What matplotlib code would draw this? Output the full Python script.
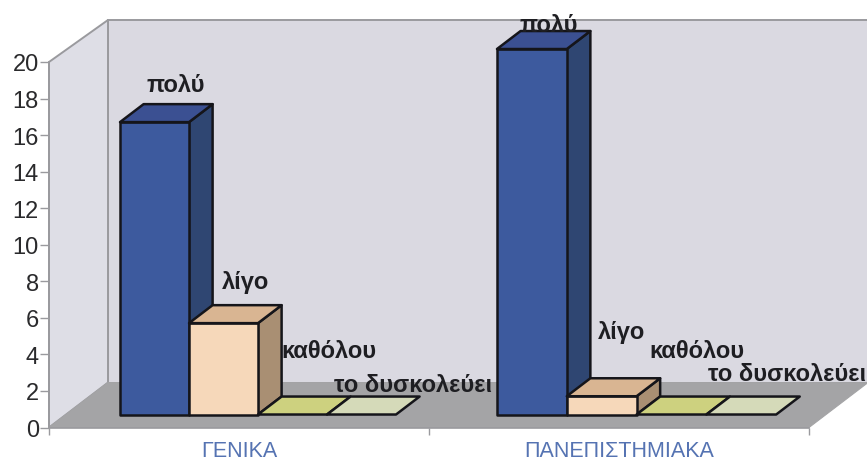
import matplotlib.pyplot as plt
from matplotlib.patches import Polygon

plt.rcParams['font.family'] = ['Liberation Sans', 'DejaVu Sans']

categories = ['ΓΕΝΙΚΑ', 'ΠΑΝΕΠΙΣΤΗΜΙΑΚΑ']
answers = ['πολύ', 'λίγο', 'καθόλου', 'το δυσκολεύει']
genika = [16, 5, 0, 0]
panepistimiaka = [20, 1, 0, 0]
y_ticks = [0, 2, 4, 6, 8, 10, 12, 14, 16, 18, 20]

W, H = 867, 460

# colours per answer: front, top, side
front_cols = ['#3d5a9e', '#f6d8ba', '#cdd17f', '#d5dab9']
top_cols = ['#3b5092', '#d9b592', '#cdd17f', '#d5dab9']
side_cols = ['#2f4672', '#a98f73', '#a08f70', '#a0a088']

# depth of the box, in x units and value units
box_dx = 59 / 380
box_dy = 45 / 18.3
wall_top = 19.84
bar_w = [69 / 380, 69.8 / 380]
d_front = 13 / 45
d_back = 31 / 45
group_start = [0.142, 0.134]

# label centres in pixels
label_pos = [
    [(176, 86), (246, 282), (329, 352), (413, 386)],
    [(549, 25), (622, 332), (697, 352), (787, 375)],
]


def project(x, v, d):
    return (x + d * box_dx, v + d * box_dy)


def draw_box(ax, x0, width, value, i):
    x1 = x0 + width
    edge = dict(edgecolor='#15151a', linewidth=1.8, joinstyle='round', clip_on=False)
    if value > 0:
        side = [project(x1, 0, d_front), project(x1, 0, d_back),
                project(x1, value, d_back), project(x1, value, d_front)]
        ax.add_patch(Polygon(side, facecolor=side_cols[i], zorder=3, **edge))
        front = [project(x0, 0, d_front), project(x1, 0, d_front),
                 project(x1, value, d_front), project(x0, value, d_front)]
        ax.add_patch(Polygon(front, facecolor=front_cols[i], zorder=3, **edge))
    top = [project(x0, value, d_front), project(x1, value, d_front),
           project(x1, value, d_back), project(x0, value, d_back)]
    ax.add_patch(Polygon(top, facecolor=top_cols[i], zorder=3, **edge))


fig = plt.figure(figsize=(W / 100, H / 100), dpi=100)
ax = fig.add_axes([49 / W, (H - 428.5) / H, 760 / W, 365.5 / H])
ax.set_xlim(0, 2)
ax.set_ylim(0, 20)
ax.patch.set_alpha(0)

# back wall, side wall and floor
wall_line = '#9a9a9e'
ax.add_patch(Polygon([project(0, 0, 1), project(2, 0, 1), project(2, wall_top, 1), project(0, wall_top, 1)],
                     facecolor='#dad9e1', edgecolor=wall_line, linewidth=1.4, clip_on=False, zorder=1))
ax.add_patch(Polygon([project(0, 0, 0), project(0, 0, 1), project(0, wall_top, 1), project(0, 20, 0)],
                     facecolor='#dedee6', edgecolor=wall_line, linewidth=1.4, clip_on=False, zorder=1))
ax.add_patch(Polygon([project(0, 0, 0), project(2, 0, 0), project(2, 0, 1), project(0, 0, 1)],
                     facecolor='#a4a4a6', edgecolor='#a4a4a6', linewidth=0.8, clip_on=False, zorder=2))

for g, values in enumerate([genika, panepistimiaka]):
    for i, value in enumerate(values):
        draw_box(ax, g + group_start[g] + i * bar_w[g], bar_w[g], value, i)
        px, py = label_pos[g][i]
        fig.text(px / W, 1 - py / H, answers[i], ha='center', va='center',
                 fontsize=17, fontweight='bold', color='#1e1e22', zorder=5)

ax.set_yticks(y_ticks)
ax.tick_params(axis='y', labelsize=17, length=6.5, width=1, color=wall_line,
               labelcolor='#2a2a2c', pad=0.8)
ax.set_xticks([0, 1, 2])
ax.set_xticklabels([])
ax.set_xticks([0.5, 1.5], labels=categories, minor=True)
ax.tick_params(axis='x', which='major', length=5, width=1, color=wall_line)
ax.tick_params(axis='x', which='minor', length=0, labelsize=15.5, labelcolor='#5573b2', pad=9)

for s in ['top', 'right']:
    ax.spines[s].set_visible(False)
for s in ['left', 'bottom']:
    ax.spines[s].set_color(wall_line)
    ax.spines[s].set_linewidth(1.2)
    ax.spines[s].set_zorder(2.5)

fig.savefig('out.png', dpi=100)
